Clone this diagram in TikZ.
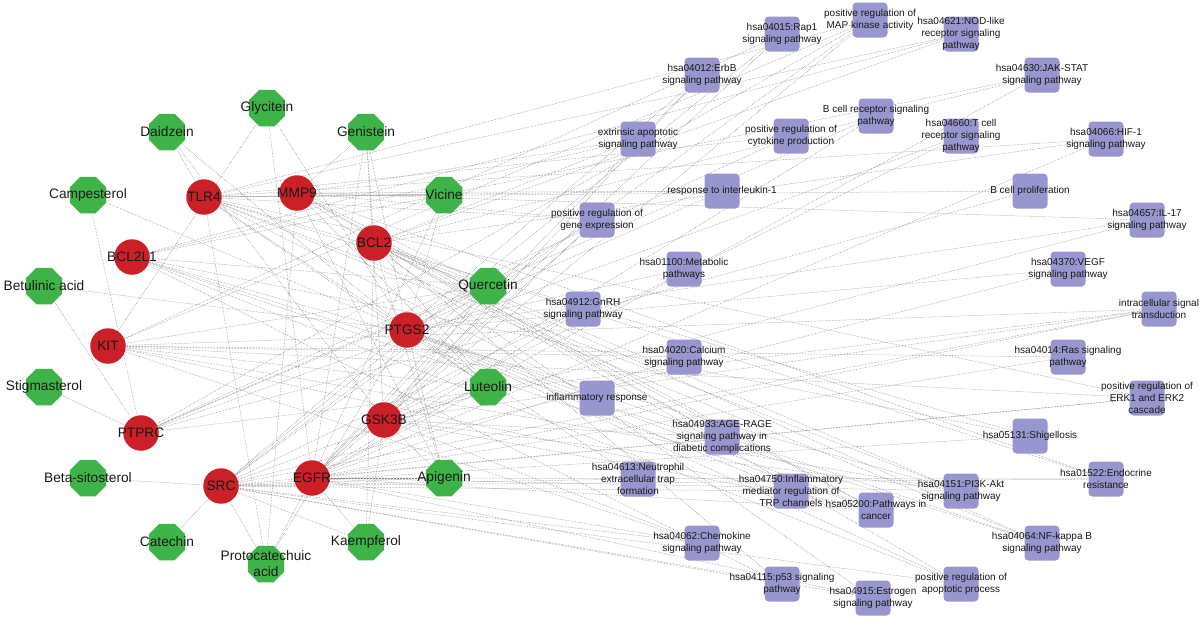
\documentclass[tikz,border=0pt]{standalone}
\usepackage{fontspec}
\setmainfont{Liberation Sans}
\usetikzlibrary{shapes.geometric}
\pgfdeclarelayer{back}
\pgfsetlayers{back,main}
\definecolor{herbgreen}{RGB}{62,179,72}
\definecolor{genered}{RGB}{204,32,40}
\definecolor{termblue}{RGB}{152,150,206}
\definecolor{edgegray}{RGB}{128,128,128}
\begin{document}
\begin{tikzpicture}[
     x=1pt, y=-1pt,
     lbl/.style={font=\fontsize{13.7}{16}\selectfont, align=center, text=black!90},
     tlbl/.style={font=\fontsize{10}{12.4}\selectfont, align=center, text=black!90},
     comp/.style={regular polygon, regular polygon sides=8, fill=herbgreen,
       minimum size=39.5pt, inner sep=0pt, label={[lbl]center:{#1}}},
     gene/.style={circle, fill=genered, minimum size=35.5pt, inner sep=0pt,
       label={[lbl]center:{#1}}},
     term/.style={rectangle, rounded corners=4pt, fill=termblue, minimum size=35pt,
       inner sep=0pt, label={[tlbl]center:{#1}}},
     link/.style={densely dotted, line width=0.5pt, edgegray}
   ]
   \path[use as bounding box] (0,0) rectangle (1200,619);
   % Compounds.
   \node[comp=Glycitein] (gly) at (267,108) {};
   \node[comp=Daidzein] (dai) at (167,132) {};
   \node[comp=Genistein] (gen) at (366,132) {};
   \node[comp=Campesterol] (cam) at (88,195) {};
   \node[comp=Vicine] (vic) at (444,195) {};
   \node[comp={Betulinic acid}] (bet) at (44,286) {};
   \node[comp=Quercetin] (que) at (488,286) {};
   \node[comp=Stigmasterol] (sti) at (44,387) {};
   \node[comp=Luteolin] (lut) at (488,387) {};
   \node[comp=Beta-sitosterol] (bsi) at (88,478) {};
   \node[comp=Apigenin] (api) at (444,478) {};
   \node[comp=Catechin] (cat) at (167,542) {};
   \node[comp=Kaempferol] (kae) at (366,542) {};
   \node[comp={Protocatechuic\\acid}] (pro) at (266,564) {};
   % Targets.
   \node[gene=TLR4] (tlr) at (204,197) {};
   \node[gene=MMP9] (mmp) at (297,193) {};
   \node[gene=BCL2] (bcl) at (374,243) {};
   \node[gene=BCL2L1] (bcll) at (132,257) {};
   \node[gene=PTGS2] (ptg) at (407,330) {};
   \node[gene=KIT] (kit) at (108,346) {};
   \node[gene=PTPRC] (ptp) at (141,433) {};
   \node[gene=GSK3B] (gsk) at (384,420) {};
   \node[gene=SRC] (src) at (221,486) {};
   \node[gene=EGFR] (egf) at (312,478) {};
   % Pathways and GO terms.
   \node[term={hsa04015:Rap1\\signaling pathway}] (rap1) at (782,34) {};
   \node[term={positive regulation of\\MAP kinase activity}] (mapk) at (870,20) {};
   \node[term={hsa04621:NOD-like\\receptor signaling\\pathway}] (nod) at (961,34) {};
   \node[term={hsa04012:ErbB\\signaling pathway}] (erbb) at (702,75) {};
   \node[term={hsa04630:JAK-STAT\\signaling pathway}] (jak) at (1042,75) {};
   \node[term={extrinsic apoptotic\\signaling pathway}] (extr) at (638,139) {};
   \node[term={positive regulation of\\cytokine production}] (cyto) at (791,136) {};
   \node[term={B cell receptor signaling\\pathway}] (bcr) at (876,116) {};
   \node[term={hsa04660:T cell\\receptor signaling\\pathway}] (tcr) at (961,136) {};
   \node[term={hsa04066:HIF-1\\signaling pathway}] (hif) at (1106,139) {};
   \node[term={response to interleukin-1}] (il1) at (722,191) {};
   \node[term={B cell proliferation}] (bpro) at (1030,191) {};
   \node[term={positive regulation of\\gene expression}] (gene) at (597,220) {};
   \node[term={hsa04657:IL-17\\signaling pathway}] (il17) at (1147,220) {};
   \node[term={hsa01100:Metabolic\\pathways}] (meta) at (684,269) {};
   \node[term={hsa04370:VEGF\\signaling pathway}] (vegf) at (1068,269) {};
   \node[term={hsa04912:GnRH\\signaling pathway}] (gnrh) at (583,309) {};
   \node[term={intracellular signal\\transduction}] (intra) at (1159,309) {};
   \node[term={hsa04020:Calcium\\signaling pathway}] (calc) at (684,357) {};
   \node[term={hsa04014:Ras signaling\\pathway}] (ras) at (1068,357) {};
   \node[term={inflammatory response}] (infl) at (597,398) {};
   \node[term={positive regulation of\\ERK1 and ERK2\\cascade}] (erk) at (1147,398) {};
   \node[term={hsa04933:AGE-RAGE\\signaling pathway in\\diabetic complications}] (age) at (722,437) {};
   \node[term={hsa05131:Shigellosis}] (shig) at (1030,436) {};
   \node[term={hsa04613:Neutrophil\\extracellular trap\\formation}] (neut) at (638,479) {};
   \node[term={hsa01522:Endocrine\\resistance}] (endo) at (1106,479) {};
   \node[term={hsa04151:PI3K-Akt\\signaling pathway}] (pi3k) at (961,491) {};
   \node[term={hsa05200:Pathways in\\cancer}] (canc) at (876,510) {};
   \node[term={hsa04750:Inflammatory\\mediator regulation of\\TRP channels}] (trp) at (791,491) {};
   \node[term={hsa04062:Chemokine\\signaling pathway}] (chem) at (702,543) {};
   \node[term={hsa04064:NF-kappa B\\signaling pathway}] (nfkb) at (1042,543) {};
   \node[term={hsa04115:p53 signaling\\pathway}] (p53) at (782,584) {};
   \node[term={positive regulation of\\apoptotic process}] (apop) at (961,584) {};
   \node[term={hsa04915:Estrogen\\signaling pathway}] (estr) at (873,598) {};
   % Links, behind the nodes.
   \begin{pgfonlayer}{back}
     \foreach \g in {kit,ptg,egf} \draw[link] (gly) -- (\g);
     \foreach \g in {tlr,gsk,ptg} \draw[link] (dai) -- (\g);
     \foreach \g in {mmp,bcl,ptg,egf,gsk} \draw[link] (gen) -- (\g);
     \foreach \g in {ptp,ptg} \draw[link] (cam) -- (\g);
     \foreach \g in {ptp,ptg} \draw[link] (bet) -- (\g);
     \draw[link] (sti) -- (ptp);
     \draw[link] (bsi) -- (src);
     \draw[link] (cat) -- (src);
     \foreach \g in {src,tlr,egf,mmp,ptg} \draw[link] (pro) -- (\g);
     \foreach \g in {egf,gsk,src,bcl} \draw[link] (kae) -- (\g);
     \foreach \g in {gsk,ptg,bcl,egf,src,mmp} \draw[link] (api) -- (\g);
     \foreach \g in {ptg,gsk,bcl,egf,src,mmp,tlr,kit} \draw[link] (lut) -- (\g);
     \foreach \g in {bcl,ptg,gsk,egf,src,mmp,tlr,bcll,kit,ptp} \draw[link] (que) -- (\g);
     \foreach \g in {mmp,tlr,ptg,egf} \draw[link] (vic) -- (\g);
     \foreach \p in {mapk,cyto,gene,infl,nfkb,pi3k,shig,bpro,erk,hif,nod,il1,neut}
       \draw[link] (tlr) -- (\p);
     \foreach \p in {il17,canc,endo,estr,gene,extr,age,il1}
       \draw[link] (mmp) -- (\p);
     \foreach \p in {extr,hif,jak,nfkb,pi3k,p53,canc,apop,endo,nod,age}
       \draw[link] (bcl) -- (\p);
     \foreach \p in {extr,jak,nfkb,pi3k,p53,canc,apop,shig,nod}
       \draw[link] (bcll) -- (\p);
     \foreach \p in {nfkb,canc,il17,trp,meta,vegf,infl,gene,il1,apop}
       \draw[link] (ptg) -- (\p);
     \foreach \p in {rap1,ras,pi3k,canc,mapk,erk,intra,calc,chem}
       \draw[link] (kit) -- (\p);
     \foreach \p in {tcr,bcr,bpro,cyto,mapk,intra}
       \draw[link] (ptp) -- (\p);
     \foreach \p in {erbb,pi3k,tcr,bcr,canc,chem,gene,intra,il17,age}
       \draw[link] (gsk) -- (\p);
     \foreach \p in {rap1,erbb,gnrh,chem,vegf,neut,trp,shig,estr,endo,mapk,intra,erk,p53,apop}
       \draw[link] (src) -- (\p);
     \foreach \p in {rap1,erbb,gnrh,calc,hif,jak,ras,pi3k,canc,endo,estr,mapk,erk,intra,gene,chem}
       \draw[link] (egf) -- (\p);
   \end{pgfonlayer}
 \end{tikzpicture}
\end{document}
